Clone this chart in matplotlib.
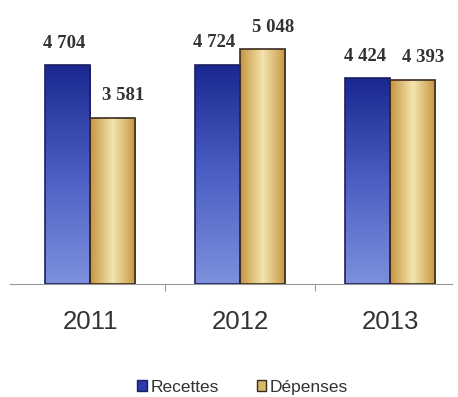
import numpy as np
import matplotlib.pyplot as plt
from matplotlib.colors import LinearSegmentedColormap
from matplotlib.patches import Patch

years = ['2011', '2012', '2013']
recettes = [4704, 4724, 4424]
depenses = [3581, 5048, 4393]
value_labels_r = ['4 704', '4 724', '4 424']
value_labels_d = ['3 581', '5 048', '4 393']

blue_cmap = LinearSegmentedColormap.from_list('b', ['#7d90dc', '#4b5fc4', '#1a2890'])
gold_cmap = LinearSegmentedColormap.from_list('g', ['#c6953f', '#f4e4ae', '#c6953f'])


def gradient_bar(ax, x, w, h, cmap, vertical, edge):
    bar = ax.bar(x, h, w, align='edge', color='none', edgecolor=edge, linewidth=1.2, zorder=3)[0]
    if vertical:
        grad = np.linspace(0, 1, 256).reshape(-1, 1)
    else:
        grad = np.linspace(0, 1, 256).reshape(1, -1)
    im = ax.imshow(grad, cmap=cmap, extent=[x, x + w, 0, h], origin='lower',
                   aspect='auto', zorder=2)
    im.set_clip_path(bar)


fig = plt.figure(figsize=(4.58, 3.97), dpi=100)
ax = fig.add_axes([0.022, 0.285, 0.965, 0.69])

w = 0.3
for i in range(3):
    gradient_bar(ax, i - w, w, recettes[i], blue_cmap, True, '#1c1f5e')
    gradient_bar(ax, i, w, depenses[i], gold_cmap, False, '#3b2a1e')
    ax.text(i - w / 2 - 0.02, recettes[i] + 480, value_labels_r[i], ha='center', va='center',
            family='Liberation Serif', fontweight='bold', fontsize=13.5, color='#333333')
    ax.text(i + w / 2 + 0.07, depenses[i] + 480, value_labels_d[i], ha='center', va='center',
            family='Liberation Serif', fontweight='bold', fontsize=13.5, color='#333333')

ax.set_xlim(-0.533, 2.413)
ax.set_ylim(0, 5900)
for s in ['top', 'right', 'left']:
    ax.spines[s].set_visible(False)
ax.spines['bottom'].set_color('#999999')
ax.set_yticks([])
ax.set_xticks([0.5, 1.5])
ax.set_xticklabels([])
ax.tick_params(axis='x', length=5, color='#999999')
for i, y in enumerate(years):
    ax.text(i, -820, y, ha='center', va='center', fontsize=18.5, color='#333333',
            family='Liberation Sans')

handles = [Patch(facecolor='#2c3aa8', edgecolor='#1c1f5e'),
           Patch(facecolor='#d8b96a', edgecolor='#3b2a1e')]
fig.legend(handles, ['Recettes', 'Dépenses'], loc='center', bbox_to_anchor=(0.53, 0.025),
           ncol=2, frameon=False, prop={'family': 'Liberation Sans', 'size': 12.5},
           handlelength=0.55, handleheight=0.55, handletextpad=0.2, columnspacing=2.2,
           labelcolor='#333333')

fig.savefig('out.png', dpi=100)
